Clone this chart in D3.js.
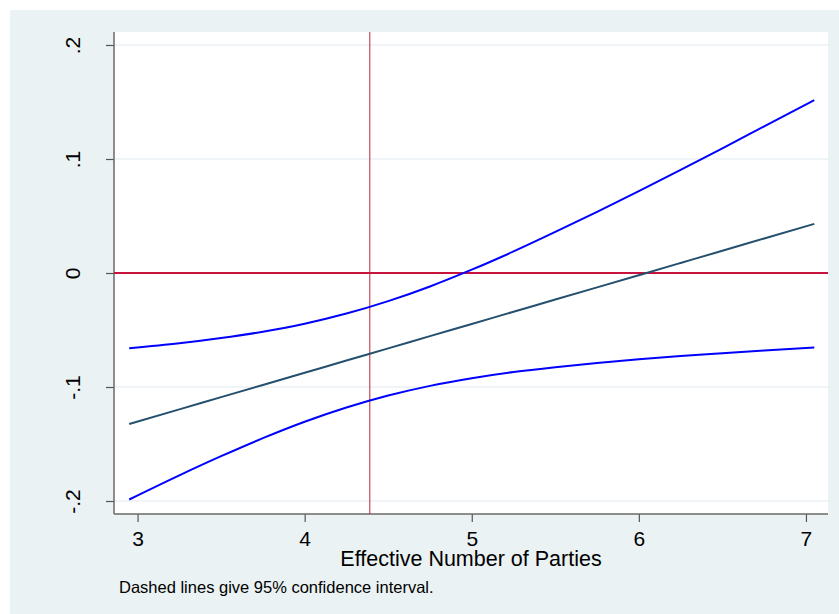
<!DOCTYPE html>
<html>
<head>
<meta charset="utf-8">
<script src="https://cdn.jsdelivr.net/npm/d3@7"></script>
<style>
  body { margin: 0; background: #ffffff; }
  text { font-family: "Liberation Sans", Arial, sans-serif; fill: #000; }
</style>
</head>
<body>
<div class="chart"></div>
<script>
var svgWidth = 839;
var svgHeight = 614;
var margin = { top: 32, right: 11, bottom: 100, left: 114 };
var width = 828 - margin.left;
var height = 514 - margin.top;

// values
var parties = [2.95, 3.25, 3.5, 3.75, 4, 4.25, 4.5, 4.75, 5, 5.25, 5.5, 5.75, 6, 6.25, 6.5, 6.75, 7.05];
var effect = [-0.1324, -0.1196, -0.1089, -0.0982, -0.0875, -0.0768, -0.0661, -0.0554, -0.0447,
              -0.0340, -0.0233, -0.0126, -0.0019, 0.0088, 0.0195, 0.0303, 0.0431];
var upperCI = [-0.0661, -0.0617, -0.0571, -0.0515, -0.0445, -0.0356, -0.0247, -0.0118, 0.0029,
               0.0189, 0.0360, 0.0537, 0.0719, 0.0905, 0.1094, 0.1286, 0.1516];
var lowerCI = [-0.1987, -0.1775, -0.1607, -0.1449, -0.1305, -0.1180, -0.1075, -0.0990, -0.0923,
               -0.0869, -0.0826, -0.0789, -0.0757, -0.0729, -0.0704, -0.0680, -0.0654];
var xTicks = [3, 4, 5, 6, 7];
var yTicks = [-0.2, -0.1, 0, 0.1, 0.2];
var yTickLabels = ["-.2", "-.1", "0", ".1", ".2"];
var meanParties = 4.39;

var svg = d3.select(".chart")
  .append("svg")
  .attr("width", svgWidth)
  .attr("height", svgHeight);

// graph region
svg.append("rect")
  .attr("x", 10).attr("y", 10)
  .attr("width", svgWidth - 10).attr("height", svgHeight - 10)
  .attr("fill", "#eaf2f3");

var chart = svg.append("g")
  .attr("transform", `translate(${margin.left}, ${margin.top})`);

chart.append("rect")
  .attr("width", width).attr("height", height)
  .attr("fill", "#ffffff");

var xScale = d3.scaleLinear().domain([2.859, 7.132]).range([0, width]);
var yScale = d3.scaleLinear().domain([-0.2114, 0.2114]).range([height, 0]);

// gridlines
chart.selectAll(".grid")
  .data(yTicks)
  .enter().append("line")
  .attr("class", "grid")
  .attr("x1", 0).attr("x2", width)
  .attr("y1", d => yScale(d)).attr("y2", d => yScale(d))
  .attr("stroke", "#eaf2f3")
  .attr("stroke-width", 1.5);

// axes
var bottomAxis = d3.axisBottom(xScale).tickValues(xTicks).tickSize(8)
  .tickFormat(d3.format("d"));
var leftAxis = d3.axisLeft(yScale).tickValues(yTicks).tickSize(8)
  .tickFormat((d, i) => yTickLabels[i]);

var xAxis = chart.append("g")
  .attr("transform", `translate(0, ${height})`)
  .call(bottomAxis);
xAxis.select(".domain").remove();
xAxis.selectAll("line").attr("stroke", "#555").attr("stroke-width", 1.2);
xAxis.selectAll("text").style("font-size", "21px").attr("y", 32).attr("dy", 0);

var yAxis = chart.append("g").call(leftAxis);
yAxis.select(".domain").remove();
yAxis.selectAll("line").attr("stroke", "#555").attr("stroke-width", 1.2);
yAxis.selectAll("text")
  .style("font-size", "21px")
  .attr("text-anchor", "middle")
  .attr("x", 0).attr("dy", 0)
  .attr("transform", "translate(-34.5, 0) rotate(-90)");

chart.append("line")
  .attr("x1", 0).attr("x2", 0).attr("y1", 0).attr("y2", height)
  .attr("stroke", "#6a6a6a").attr("stroke-width", 1.5);
chart.append("line")
  .attr("x1", 0).attr("x2", width).attr("y1", height).attr("y2", height)
  .attr("stroke", "#6a6a6a").attr("stroke-width", 1.5);

// reference lines
chart.append("line")
  .attr("x1", 0).attr("x2", width)
  .attr("y1", yScale(0)).attr("y2", yScale(0))
  .attr("stroke", "#c8143c").attr("stroke-width", 2);
chart.append("line")
  .attr("x1", xScale(meanParties)).attr("x2", xScale(meanParties))
  .attr("y1", 0).attr("y2", height)
  .attr("stroke", "#b8243c").attr("stroke-width", 1);

var line = d3.line()
  .x((d, i) => xScale(parties[i]))
  .y(d => yScale(d))
  .curve(d3.curveMonotoneX);

chart.append("path").datum(effect)
  .attr("d", line).attr("fill", "none")
  .attr("stroke", "#24506e").attr("stroke-width", 2);
chart.append("path").datum(upperCI)
  .attr("d", line).attr("fill", "none")
  .attr("stroke", "#0000ff").attr("stroke-width", 2);
chart.append("path").datum(lowerCI)
  .attr("d", line).attr("fill", "none")
  .attr("stroke", "#0000ff").attr("stroke-width", 2);

// titles
svg.append("text")
  .attr("x", margin.left + width / 2).attr("y", 566)
  .attr("text-anchor", "middle")
  .style("font-size", "21.5px")
  .text("Effective Number of Parties");

svg.append("text")
  .attr("x", 119).attr("y", 593)
  .style("font-size", "16.5px")
  .text("Dashed lines give 95% confidence interval.");
</script>
</body>
</html>
